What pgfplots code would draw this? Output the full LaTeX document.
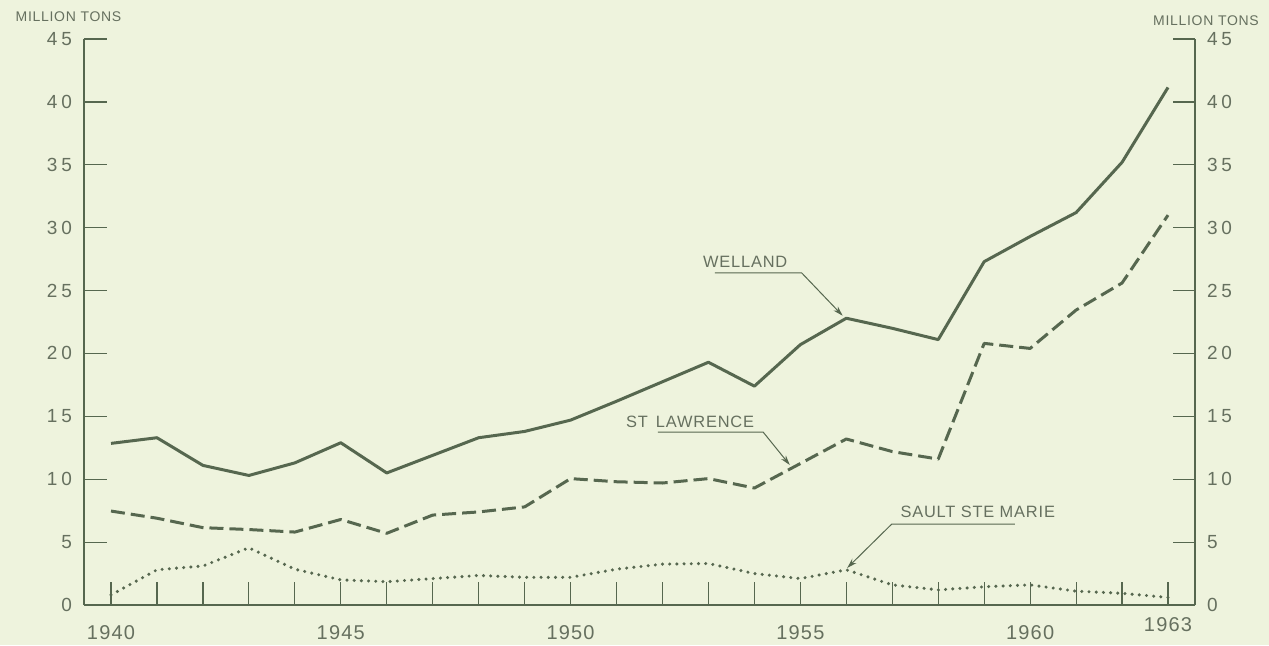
\documentclass[border=0pt]{standalone}
\usepackage{fontspec}
\setmainfont{Liberation Sans}
\newfontfamily\ylbl[LetterSpace=20]{Liberation Sans}
\newfontfamily\xlbl[LetterSpace=6]{Liberation Sans}
\newfontfamily\anno[LetterSpace=5]{Liberation Sans}
\usepackage{pgfplots}
\pgfplotsset{compat=1.18}
\usetikzlibrary{arrows.meta}
\definecolor{bg}{HTML}{EEF3DD}
\definecolor{ink}{HTML}{56674F}
\definecolor{txt}{HTML}{66705F}

\pgfplotstableread{
year welland stlaw sault
1940 12.85 7.47 0.8
1941 13.3 6.9 2.8
1942 11.1 6.15 3.1
1943 10.3 6.0 4.55
1944 11.3 5.8 2.85
1945 12.9 6.8 2.0
1946 10.5 5.7 1.85
1947 11.9 7.15 2.1
1948 13.3 7.4 2.35
1949 13.8 7.8 2.2
1950 14.7 10.05 2.2
1951 16.2 9.8 2.85
1952 17.75 9.7 3.25
1953 19.3 10.05 3.3
1954 17.4 9.3 2.5
1955 20.7 11.25 2.1
1956 22.8 13.2 2.8
1957 22.0 12.2 1.6
1958 21.1 11.6 1.2
1959 27.3 20.8 1.45
1960 29.3 20.4 1.6
1961 31.2 23.45 1.1
1962 35.2 25.6 0.93
1963 41.15 31.0 0.6
}\datatable

\begin{document}
\begin{tikzpicture}
\path[use as bounding box, fill=bg] (0,0) rectangle (634.5pt,322.5pt);
\node[txt, font=\anno\fontsize{7}{8}\selectfont] at (34.25pt,314pt) {MILLION TONS};
\node[txt, font=\anno\fontsize{7}{8}\selectfont] at (603pt,312pt) {MILLION TONS};
\begin{axis}[
  at={(42pt,20pt)}, anchor=south west, scale only axis,
  width=555.5pt, height=283pt,
  xmin=1939.4125, xmax=1963.5875, ymin=0, ymax=45,
  axis x line*=bottom, axis y line*=left,
  axis line style={ink, line width=1pt},
  tick align=inside,
  major tick length=11.5pt, minor tick length=11.5pt,
  tick style={ink, line width=0.6pt},
  minor tick style={ink, line width=0.6pt},
  xtick={1940,1945,1950,1955,1960},
  minor xtick={1941,1942,1943,1944,1946,1947,1948,1949,1951,1952,1953,1954,1956,1957,1958,1959,1961,1962},
  xticklabels={1940,1945,1950,1955,1960},
  extra x ticks={1963}, extra x tick labels={1963},
  extra x tick style={tick label style={font=\xlbl\fontsize{8.5}{9}\selectfont, yshift=4pt}},
  ytick={0,5,...,45},
  /pgf/number format/assume math mode=true,
  xticklabel style={anchor=center, yshift=-14pt, font=\xlbl\fontsize{10}{11}\selectfont, text=txt},
  yticklabel style={anchor=east, xshift=-2.5pt, font=\ylbl\fontsize{9.5}{10}\selectfont, text=txt},
  clip=false,
]
\addplot[ink, line width=1.5pt, line join=round] table[x=year, y=welland] {\datatable};
\addplot[ink, line width=1.5pt, line join=round, dash pattern=on 7pt off 3pt] table[x=year, y=stlaw] {\datatable};
\addplot[ink, line width=1.7pt, line cap=round, dash pattern=on 0pt off 3.6pt] table[x=year, y=sault] {\datatable};

\node[txt, font=\anno\fontsize{8.2}{9}\selectfont] at (axis cs:1953.8,27.3) {WELLAND};
\draw[ink, line width=0.5pt, -{Stealth[length=5pt,width=3pt]}] (axis cs:1953.14,26.4) -- (axis cs:1955.03,26.4) -- (axis cs:1955.92,23.0);
\node[txt, font=\anno\fontsize{8.2}{9}\selectfont] at (axis cs:1952.6,14.57) {ST\, LAWRENCE};
\draw[ink, line width=0.5pt, -{Stealth[length=5pt,width=3pt]}] (axis cs:1951.9,13.75) -- (axis cs:1954.19,13.75) -- (axis cs:1954.77,11.13);
\node[txt, font=\anno\fontsize{8.2}{9}\selectfont] at (axis cs:1958.86,7.4) {SAULT STE MARIE};
\draw[ink, line width=0.5pt, -{Stealth[length=5pt,width=3pt]}] (axis cs:1959.67,6.44) -- (axis cs:1956.99,6.44) -- (axis cs:1956.02,2.95);
\end{axis}
\begin{axis}[
  at={(42pt,20pt)}, anchor=south west, scale only axis,
  width=555.5pt, height=283pt,
  xmin=1939.4125, xmax=1963.5875, ymin=0, ymax=45,
  axis x line=none, axis y line*=right,
  axis line style={ink, line width=1pt},
  tick align=inside, major tick length=11pt,
  tick style={ink, line width=0.6pt},
  ytick={0,5,...,45},
  /pgf/number format/assume math mode=true,
  yticklabel style={anchor=west, xshift=2.5pt, font=\ylbl\fontsize{9.5}{10}\selectfont, text=txt},
]
\end{axis}
\end{tikzpicture}
\end{document}
